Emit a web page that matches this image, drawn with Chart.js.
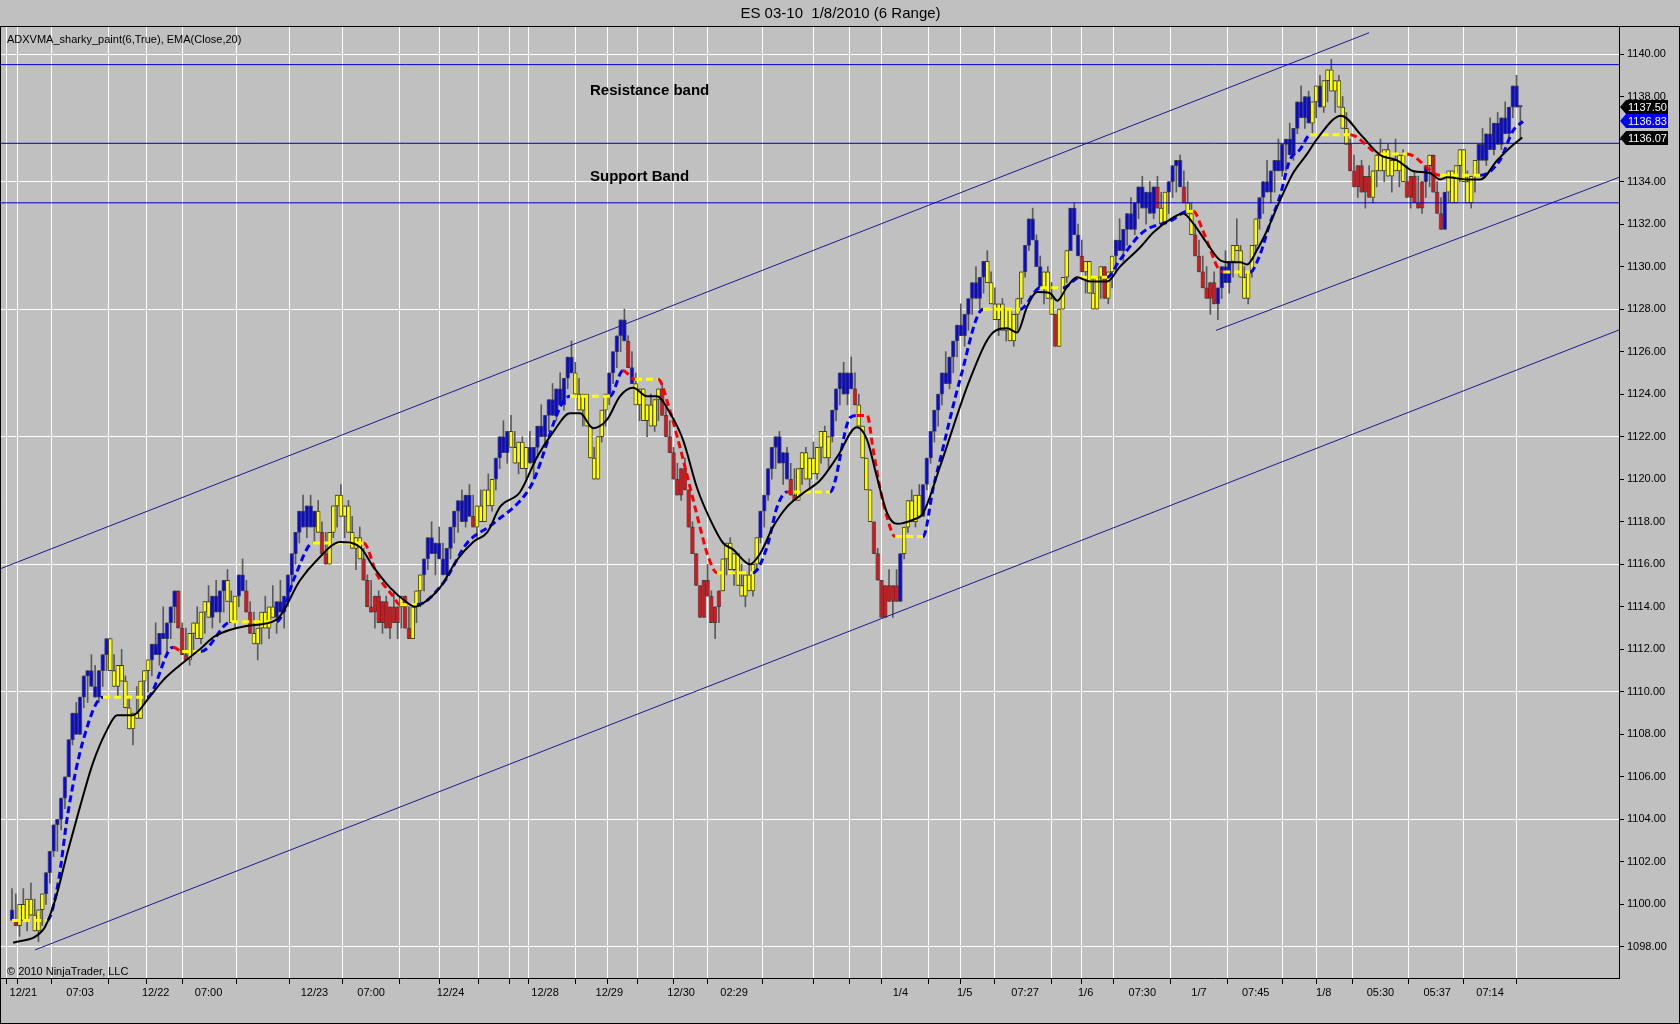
<!DOCTYPE html>
<html>
<head>
<meta charset="utf-8">
<title>ES 03-10 1/8/2010 (6 Range)</title>
<script src="https://cdn.jsdelivr.net/npm/chart.js@4.4.1/dist/chart.umd.min.js"></script>
<style>
  html, body { margin: 0; padding: 0; background: #c0c0c0; overflow: hidden; }
  #grafico { display: block; }
</style>
</head>
<body>
<canvas id="grafico" width="1680" height="1024"></canvas>
<script>
// ========== Dados ==========

// closes of each 6-tick range bar
const closes = [
  1099.25, 1099.0, 1100.0, 1099.25, 1100.25, 1099.5, 1098.75, 1099.75, 1100.5, 1101.5,
  1102.5, 1103.75, 1104.0, 1105.0, 1106.0, 1107.75, 1109.0, 1108.0, 1109.75, 1110.75,
  1111.0, 1110.25, 1109.75, 1111.0, 1111.75, 1112.5, 1111.0, 1110.25, 1111.25, 1110.5,
  1109.25, 1108.25, 1109.0, 1108.75, 1110.5, 1111.0, 1111.5, 1112.25, 1111.75, 1112.75,
  1112.5, 1113.25, 1114.0, 1114.75, 1113.0, 1111.75, 1111.5, 1112.75, 1113.25, 1112.5,
  1113.75, 1114.25, 1113.5, 1114.5, 1113.75, 1114.75, 1115.25, 1114.25, 1113.25, 1114.5,
  1115.5, 1114.75, 1113.75, 1112.75, 1112.25, 1113.0, 1113.75, 1113.0, 1114.0, 1113.5,
  1114.25, 1113.75, 1114.5, 1115.5, 1116.5, 1117.5, 1118.5, 1117.75, 1118.75, 1117.75,
  1118.5, 1117.5, 1116.5, 1116.0, 1117.5, 1118.75, 1119.25, 1118.25, 1118.75, 1117.5,
  1116.75, 1117.25, 1116.25, 1115.25, 1114.0, 1113.75, 1114.5, 1113.25, 1114.25, 1113.0,
  1114.0, 1113.25, 1114.0, 1114.5, 1113.0, 1112.5, 1114.0, 1114.75, 1115.5, 1116.25,
  1117.25, 1116.5, 1117.0, 1116.25, 1115.5, 1116.75, 1117.75, 1118.5, 1119.0, 1118.0,
  1119.25, 1118.25, 1117.75, 1118.75, 1118.0, 1119.5, 1118.75, 1120.0, 1121.0, 1122.0,
  1121.25, 1122.25, 1121.5, 1120.75, 1121.75, 1120.5, 1121.5, 1120.75, 1121.5, 1122.5,
  1122.0, 1123.0, 1123.75, 1123.0, 1124.25, 1123.5, 1124.75, 1125.75, 1125.0, 1124.0,
  1123.25, 1124.0, 1122.5, 1121.0, 1120.0, 1122.0, 1123.25, 1124.0, 1125.0, 1126.0,
  1126.75, 1127.5, 1126.5, 1125.25, 1124.5, 1123.5, 1124.25, 1122.75, 1123.5, 1122.5,
  1123.75, 1124.25, 1123.0, 1122.0, 1121.25, 1120.0, 1119.25, 1120.5, 1119.5, 1117.75,
  1116.5, 1115.0, 1113.5, 1115.25, 1114.5, 1113.25, 1114.0, 1114.75, 1116.25, 1117.0,
  1115.75, 1116.5, 1115.0, 1114.5, 1115.5, 1114.75, 1116.0, 1117.25, 1118.5, 1119.25,
  1120.5, 1121.5, 1122.0, 1120.75, 1121.25, 1120.0, 1119.25, 1119.0, 1120.5, 1121.25,
  1120.0, 1121.0, 1120.25, 1121.5, 1122.25, 1121.0, 1122.0, 1123.25, 1124.25, 1125.0,
  1124.0, 1125.0, 1124.25, 1123.5, 1122.5, 1121.0, 1119.5, 1118.0, 1116.5, 1115.25,
  1113.5, 1115.0, 1114.25, 1115.0, 1114.25, 1116.5, 1117.75, 1119.0, 1118.0, 1119.25,
  1118.25, 1119.75, 1121.0, 1122.25, 1123.25, 1124.0, 1125.0, 1124.5, 1125.75, 1126.5,
  1127.25, 1126.75, 1127.75, 1128.5, 1129.25, 1128.5, 1129.5, 1130.25, 1129.25, 1128.25,
  1127.5, 1128.25, 1127.0, 1128.0, 1126.5, 1127.75, 1128.5, 1129.75, 1131.0, 1132.25,
  1131.25, 1130.0, 1129.0, 1129.75, 1128.5, 1127.75, 1126.25, 1128.0, 1129.5, 1130.75,
  1132.75, 1131.5, 1130.5, 1129.75, 1130.25, 1128.75, 1128.0, 1129.5, 1130.0, 1128.5,
  1129.75, 1130.5, 1131.25, 1130.75, 1131.75, 1132.5, 1131.75, 1133.0, 1133.75, 1132.75,
  1133.5, 1132.5, 1133.75, 1132.75, 1132.0, 1133.5, 1134.0, 1134.75, 1135.0, 1133.75,
  1133.0, 1132.5, 1131.5, 1130.5, 1129.75, 1129.0, 1128.5, 1129.25, 1128.25, 1129.0,
  1130.0, 1129.25, 1130.25, 1131.0, 1130.75, 1129.5, 1128.5, 1129.75, 1131.0, 1132.25,
  1133.25, 1134.0, 1133.5, 1134.5, 1135.0, 1134.5, 1135.75, 1136.0, 1135.25, 1136.5,
  1137.75, 1137.0, 1138.0, 1136.75, 1137.75, 1138.5, 1137.5, 1138.75, 1139.25, 1138.25,
  1138.75, 1137.5, 1136.5, 1135.75, 1134.5, 1133.75, 1134.75, 1133.5, 1134.25, 1133.25,
  1134.5, 1135.25, 1134.5, 1135.5, 1134.25, 1135.0, 1134.5, 1135.25, 1134.0, 1133.25,
  1134.25, 1133.0, 1132.75, 1134.0, 1134.75, 1135.25, 1133.5, 1132.5, 1131.75, 1133.5,
  1134.5, 1133.0, 1134.75, 1135.5, 1134.0, 1133.0, 1134.25, 1135.0, 1135.75, 1135.0,
  1136.25, 1135.5, 1136.75, 1135.75, 1137.0, 1136.25, 1137.5, 1138.5, 1137.5, 1137.5
];
const firstOpen = 1099.75;
const rangePoints = 1.5; // 6 ticks x 0.25

// bar paint (B blue, Y yellow, R red), run-length: code + count
const barColorRuns = [
  'B1', 'R1', 'Y7', 'B17', 'Y11', 'B7', 'R3', 'Y6', 'B4', 'Y3', 'B2', 'R2', 'Y6', 'B11',
  'Y1', 'R2', 'Y9', 'R10', 'Y1', 'R2', 'Y3', 'B13', 'R1', 'Y5', 'B4', 'Y5', 'B12', 'Y9',
  'B5', 'R1', 'B1', 'Y7', 'R16', 'Y10', 'B8', 'R2', 'Y9', 'B6', 'R1', 'Y4', 'R7', 'B1',
  'Y5', 'B17', 'Y10', 'B5', 'Y3', 'R1', 'Y3', 'B3', 'R1', 'Y5', 'R1', 'Y2', 'B11', 'R1',
  'Y2', 'B4', 'R1', 'Y2', 'R6', 'B4', 'Y7', 'B14', 'Y2', 'B1', 'Y7', 'R6', 'Y9', 'R5',
  'B1', 'Y1', 'R3', 'B1', 'Y8', 'B12'
];

// ADXVMA(6): [bar, value, colour of the following stretch]
const adxvmaLine = [
  [0, 1099.25, 'Y'], [9.3, 1099.25, 'B'], [12.2, 1101.0, 'B'], [14.8, 1104.3, 'B'],
  [18.8, 1107.7, 'B'], [24.1, 1109.75, 'Y'], [35.7, 1109.75, 'B'], [42.6, 1112.1, 'R'],
  [45, 1111.9, 'Y'], [50, 1111.9, 'B'], [58, 1113.3, 'Y'], [70, 1113.3, 'B'],
  [75, 1115.5, 'B'], [79.6, 1117.0, 'Y'], [93, 1117.0, 'R'], [96.6, 1115.5, 'R'],
  [100.8, 1114.5, 'R'], [102.6, 1114.1, 'Y'], [107.1, 1114.1, 'B'], [114, 1115.1, 'B'],
  [120.4, 1117.0, 'B'], [127.2, 1117.9, 'B'], [137, 1119.6, 'B'], [147.6, 1123.9, 'Y'],
  [158.2, 1123.9, 'B'], [161.6, 1125.1, 'R'], [164.8, 1124.7, 'Y'], [170.9, 1124.7, 'R'],
  [174, 1123.25, 'R'], [176.7, 1121.5, 'R'], [179.4, 1119.6, 'R'], [182, 1117.75, 'R'],
  [183.9, 1116.5, 'R'], [186.5, 1115.6, 'Y'], [196, 1115.6, 'B'], [199.7, 1116.8, 'B'],
  [202.4, 1118.7, 'B'], [205, 1119.4, 'R'], [206.6, 1119.4, 'Y'], [216.4, 1119.4, 'B'],
  [221.7, 1122.9, 'B'], [223.5, 1123.0, 'R'], [226.2, 1123.0, 'R'], [227.8, 1121.4, 'R'],
  [229.6, 1119.6, 'R'], [231.5, 1118.2, 'R'], [233.6, 1117.3, 'Y'], [241, 1117.3, 'B'],
  [243.7, 1119.6, 'B'], [245.5, 1120.9, 'B'], [250.8, 1124.7, 'B'], [256.9, 1128.0, 'Y'],
  [266.7, 1128.0, 'B'], [272, 1129.0, 'Y'], [278, 1129.0, 'B'], [282.5, 1129.5, 'Y'],
  [289.7, 1129.5, 'B'], [293, 1130.3, 'B'], [299, 1131.6, 'B'], [307, 1132.2, 'B'],
  [310.8, 1132.6, 'Y'], [312.5, 1132.6, 'R'], [315, 1131.7, 'R'], [317, 1130.8, 'R'],
  [318.8, 1130.0, 'R'], [320.4, 1129.75, 'Y'], [327.5, 1129.75, 'B'], [330, 1130.5, 'B'],
  [332.8, 1132.05, 'B'], [335.4, 1133.3, 'B'], [338, 1135.0, 'B'], [340.7, 1135.5, 'B'],
  [343.5, 1136.2, 'Y'], [354, 1136.2, 'R'], [362, 1135.3, 'Y'], [369, 1135.3, 'R'],
  [377.8, 1134.3, 'Y'], [388.4, 1134.3, 'B'], [393.6, 1135.0, 'B'], [397.1, 1136.4, 'B'],
  [399.7, 1136.83, 'B']
];

// EMA(Close,20): [bar, value]
const emaLine = [
  [0.3, 1098.2], [8.2, 1098.8], [11.4, 1100.2], [14.6, 1102.4], [18, 1104.6], [21.4, 1106.65],
  [25.1, 1108.2], [27.8, 1108.9], [32, 1108.9], [35.7, 1109.6], [40, 1110.55], [44.4, 1111.25],
  [49.7, 1112.0], [53.5, 1112.6], [62, 1113.1], [70, 1113.4], [76.2, 1115.25], [80.7, 1116.2],
  [86.8, 1117.05], [92.1, 1116.8], [95.5, 1115.9], [100, 1114.9], [104.5, 1114.2], [106.6, 1114.0],
  [109.8, 1114.3], [113.2, 1114.9], [117.7, 1116.2], [122, 1117.05], [125.7, 1117.5], [129.1, 1118.7],
  [134.4, 1119.4], [138.9, 1121.05], [143.1, 1122.2], [147.6, 1123.1], [150.3, 1123.1], [153.7, 1122.4],
  [157.4, 1122.8], [160.8, 1123.9], [164.3, 1124.3], [168, 1123.9], [170.6, 1123.9], [174.1, 1123.1],
  [177.5, 1121.85], [181.2, 1119.6], [184.7, 1118.1], [188.1, 1117.0], [190.7, 1116.7], [195.2, 1116.0],
  [197.9, 1116.5], [201.3, 1117.75], [205, 1118.7], [209.3, 1119.35], [213.8, 1119.95], [218.3, 1121.05],
  [223.5, 1122.45], [226.2, 1121.85], [228.8, 1120.1], [231.5, 1118.4], [234.1, 1117.9], [238.4, 1118.1],
  [241, 1118.4], [245.5, 1120.6], [253.4, 1124.7], [259.5, 1126.9], [263.2, 1127.1], [265.9, 1126.9],
  [268.5, 1128.1], [271.2, 1128.8], [274.6, 1128.75], [276.5, 1128.4], [279.1, 1129.05], [281.7, 1129.5],
  [285.2, 1129.3], [289.7, 1129.3], [293.1, 1130.0], [298.4, 1130.9], [301.9, 1131.6], [307.1, 1132.3],
  [309.8, 1132.5], [312.4, 1132.05], [316.1, 1131.1], [319.6, 1130.3], [322.2, 1130.2], [324.9, 1130.2],
  [326.7, 1130.1], [329.4, 1130.8], [332, 1131.7], [335.4, 1133.1], [338.9, 1134.4], [342.6, 1135.3],
  [345.2, 1136.0], [351.6, 1137.1], [356.8, 1136.2], [361.9, 1135.25], [366.4, 1135.0], [370.6, 1134.5],
  [375.1, 1134.4], [377.8, 1134.1], [379.6, 1134.2], [384.9, 1134.1], [388.4, 1134.1], [392.9, 1135.0],
  [396.3, 1135.6], [399.5, 1136.07]
];

// drawn objects
const bandLevels = [1139.5, 1135.8, 1133.0];
const channelLines = [
  [[-2.9, 1115.8], [359, 1141.0]],
  [[6.1, 1097.86], [425.1, 1127.02]],
  [[318.5, 1127.0], [425.1, 1134.2]]
];
const notes = [
  { text: 'Resistance band', bar: 152.9, price: 1138.26 },
  { text: 'Support Band', bar: 152.9, price: 1134.21 }
];

// axes
const xTickBars = [0, 3, 18, 33, 38, 52, 67, 80, 95, 110, 116, 131, 132, 141, 157, 158, 173, 177,
  191, 206, 218, 225, 235, 250, 252, 268, 282, 284, 299, 314, 329, 343, 347, 362, 377, 391];
const xTickLabels = ['', '12/21', '07:03', '', '12/22', '07:00', '', '12/23', '07:00', '', '12/24',
  '', '', '12/28', '', '12/29', '', '12/30', '02:29', '', '', '', '1/4', '', '1/5', '07:27', '',
  '1/6', '07:30', '1/7', '07:45', '', '1/8', '05:30', '05:37', '07:14'];
const yTickValues = [1098, 1100, 1102, 1104, 1106, 1108, 1110, 1112, 1114, 1116, 1118, 1120,
  1122, 1124, 1126, 1128, 1130, 1132, 1134, 1136, 1138, 1140];

const X_MIN = -2.91, X_MAX = 425.1;
const Y_MIN = 1096.54, Y_MAX = 1141.27;

// ========== Montagem ==========

const paintColors = { B: '#0a0ad2', Y: '#ffff00', R: '#dc1414' };
const adxColors = { B: '#0000ff', Y: '#ffff00', R: '#ff0000' };
const FONT = 'Arial, "Liberation Sans", sans-serif';

const barColors = [];
barColorRuns.forEach(run => {
  const n = parseInt(run.slice(1), 10);
  for (let k = 0; k < n; k++) barColors.push(run[0]);
});

const bars = closes.map((c, i) => {
  const o = i === 0 ? firstOpen : closes[i - 1];
  let hi, lo;
  if (c >= o) { hi = c; lo = Math.min(o, c - rangePoints); }
  else { lo = c; hi = Math.max(o, c + rangePoints); }
  return { x: i, o, c, hi, lo };
});

function lineSet(points, color, width, order) {
  return {
    type: 'line',
    data: points.map(p => ({ x: p[0], y: p[1] })),
    borderColor: color,
    borderWidth: width,
    pointRadius: 0,
    fill: false,
    order: order
  };
}

const datasets = [];

datasets.push({
  type: 'bar',
  label: 'wicks',
  data: bars.map(b => ({ x: b.x, y: [b.lo, b.hi] })),
  backgroundColor: '#5a5a5a',
  barThickness: 1,
  grouped: false,
  order: 6
});

datasets.push({
  type: 'bar',
  label: 'bodies',
  data: bars.map(b => ({ x: b.x, y: [b.o, b.c] })),
  backgroundColor: barColors.map(c => paintColors[c]),
  borderColor: barColors.map(c => c === 'Y' ? 'rgba(40,40,20,0.75)' : 'rgba(10,10,30,0.55)'),
  borderWidth: 1,
  borderSkipped: false,
  barThickness: 4,
  minBarLength: 2,
  grouped: false,
  order: 5
});

bandLevels.forEach(v => {
  datasets.push(lineSet([[X_MIN, v], [X_MAX, v]], '#0000c8', 1, 3));
});
channelLines.forEach(l => {
  datasets.push(lineSet(l, '#1c1c90', 1, 3));
});

const adxSet = lineSet(adxvmaLine, '#0000ff', 3, 2);
adxSet.borderDash = [7, 4];
adxSet.cubicInterpolationMode = 'monotone';
adxSet.segment = { borderColor: ctx => adxColors[adxvmaLine[ctx.p0DataIndex][2]] };
datasets.push(adxSet);

const emaSet = lineSet(emaLine, '#000000', 2, 1);
emaSet.cubicInterpolationMode = 'monotone';
datasets.push(emaSet);

// background, frame, texts and price markers
const decoracao = {
  id: 'decoracao',
  beforeDraw(chart) {
    const ctx = chart.ctx;
    ctx.save();
    ctx.fillStyle = '#c0c0c0';
    ctx.fillRect(0, 0, chart.width, chart.height);
    ctx.restore();
  },
  afterDraw(chart) {
    const ctx = chart.ctx;
    const area = chart.chartArea;
    const xs = chart.scales.x, ys = chart.scales.y;
    ctx.save();

    ctx.strokeStyle = '#000';
    ctx.lineWidth = 1;
    ctx.strokeRect(0.5, area.top - 0.5, chart.width - 1, chart.height - area.top);

    ctx.fillStyle = '#000';
    ctx.textBaseline = 'alphabetic';
    ctx.textAlign = 'left';
    ctx.font = '11px ' + FONT;
    ctx.fillText('ADXVMA_sharky_paint(6,True), EMA(Close,20)', area.left + 6, area.top + 16);
    ctx.fillText('\u00a9 2010 NinjaTrader, LLC', area.left + 6, area.bottom - 3);

    ctx.font = 'bold 15px ' + FONT;
    ctx.textBaseline = 'middle';
    notes.forEach(n => {
      ctx.fillText(n.text, xs.getPixelForValue(n.bar), ys.getPixelForValue(n.price));
    });

    const tags = [
      { value: closes[closes.length - 1], color: '#000000' },
      { value: adxvmaLine[adxvmaLine.length - 1][1], color: '#0000ff' },
      { value: emaLine[emaLine.length - 1][1], color: '#000000' }
    ];
    ctx.font = '11px ' + FONT;
    tags.forEach(t => {
      const y = Math.round(ys.getPixelForValue(t.value));
      const x0 = area.right + 1;
      ctx.fillStyle = t.color;
      ctx.beginPath();
      ctx.moveTo(x0, y);
      ctx.lineTo(x0 + 6, y - 7);
      ctx.lineTo(x0 + 48, y - 7);
      ctx.lineTo(x0 + 48, y + 7);
      ctx.lineTo(x0 + 6, y + 7);
      ctx.closePath();
      ctx.fill();
      ctx.fillStyle = '#ffffff';
      ctx.textBaseline = 'middle';
      ctx.fillText(t.value.toFixed(2), x0 + 8, y + 1);
    });

    ctx.restore();
  }
};

new Chart(document.getElementById('grafico'), {
  type: 'bar',
  data: { datasets: datasets },
  plugins: [decoracao],
  options: {
    responsive: false,
    animation: false,
    devicePixelRatio: 1,
    events: [],
    layout: { padding: { left: 1, top: 0, right: 0, bottom: 0 } },
    plugins: {
      legend: { display: false },
      tooltip: { enabled: false },
      title: {
        display: true,
        text: 'ES 03-10  1/8/2010 (6 Range)',
        color: '#000',
        font: { family: FONT, size: 15, weight: 'normal' },
        padding: { top: 5, bottom: 4 }
      }
    },
    scales: {
      x: {
        type: 'linear',
        min: X_MIN,
        max: X_MAX,
        offset: false,
        afterBuildTicks: s => { s.ticks = xTickBars.map(v => ({ value: v })); },
        afterFit: s => { s.height = 46; },
        grid: { color: '#ffffff', lineWidth: 1, tickColor: '#000', tickLength: 6 },
        border: { display: true, color: '#000', width: 1 },
        ticks: {
          autoSkip: false, maxRotation: 0, minRotation: 0, padding: 2, color: '#000',
          font: { family: FONT, size: 11 },
          callback: (v, i) => xTickLabels[i]
        }
      },
      y: {
        type: 'linear',
        position: 'right',
        min: Y_MIN,
        max: Y_MAX,
        afterBuildTicks: s => { s.ticks = yTickValues.map(v => ({ value: v })); },
        afterFit: s => { s.width = 61; },
        grid: {
          color: ctx => (ctx.tick && Math.round(ctx.tick.value) % 6 === 0) ? '#ffffff' : 'rgba(0,0,0,0)',
          tickColor: '#000',
          tickLength: 5
        },
        border: { display: true, color: '#000', width: 1 },
        ticks: {
          padding: 3, color: '#000',
          font: { family: FONT, size: 11 },
          callback: v => Number(v).toFixed(2)
        }
      }
    }
  }
});
</script>
</body>
</html>
